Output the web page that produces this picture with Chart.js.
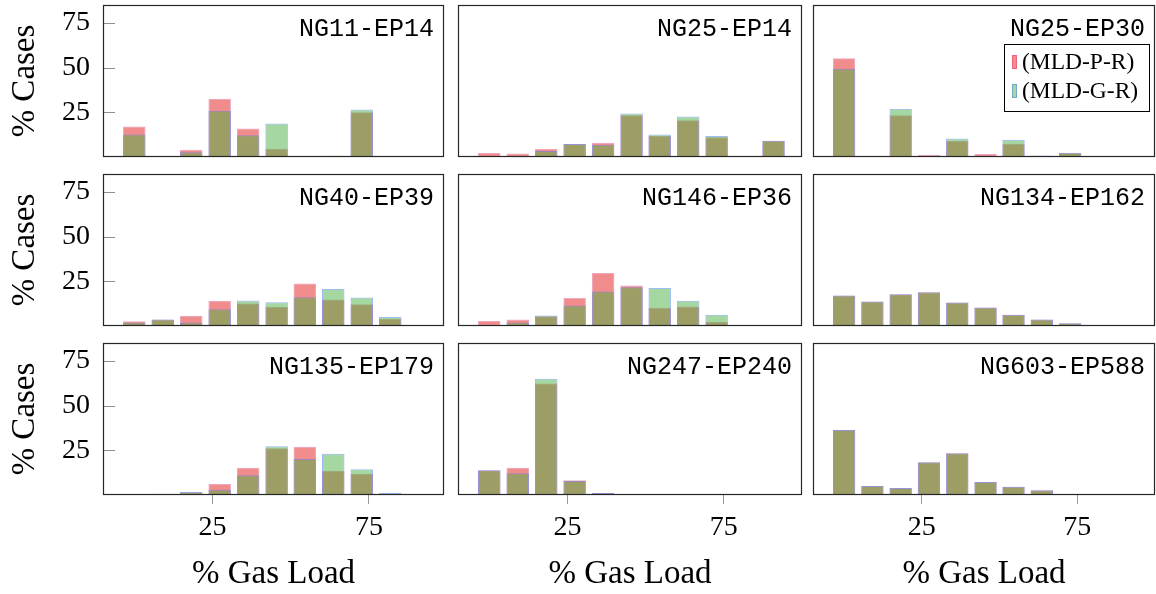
<!DOCTYPE html>
<html>
<head>
<meta charset="utf-8">
<script src="https://cdn.jsdelivr.net/npm/chart.js@4.4.1/dist/chart.umd.min.js"></script>
<style>
  html, body { margin: 0; padding: 0; background: #fff; overflow: hidden; width: 1156px; height: 594px; }
  canvas { position: absolute; }
</style>
</head>
<body>
<script>
// Histogram bins (% gas load) and axis ticks
const gasLoadBins = [0, 9.1, 18.2, 27.3, 36.4, 45.5, 54.5, 63.6, 72.7, 81.8, 90.9];
const xTickValues = [25, 75];
const yTickValues = [25, 50, 75];

// % of cases per bin, one pair of series per instance
const mldPR_NG11_EP14   = [17.0, 0.2, 4.1, 32.6, 15.9, 4.6, 0.4, 0.7, 25.0, 0, 0];
const mldGR_NG11_EP14   = [12.6, 0.2, 2.6, 25.9, 12.2, 18.7, 0.2, 0.4, 26.5, 0, 0];
const mldPR_NG25_EP14   = [2.2, 1.9, 4.6, 7.2, 8.0, 23.3, 11.7, 20.6, 11.1, 0.3, 9.1];
const mldGR_NG25_EP14   = [0, 0.4, 3.3, 7.2, 6.9, 24.3, 12.6, 22.6, 11.7, 0.3, 9.1];
const mldPR_NG25_EP30   = [55.2, 0.3, 23.3, 1.1, 8.9, 1.7, 7.4, 0.4, 2.2, 0, 0];
const mldGR_NG25_EP30   = [49.3, 0.3, 27.0, 0.2, 10.4, 0.3, 9.6, 0.9, 2.4, 0, 0];
const mldPR_NG40_EP39   = [2.6, 3.7, 5.7, 14.1, 12.6, 10.6, 23.7, 14.8, 12.2, 4.1, 0];
const mldGR_NG40_EP39   = [1.9, 3.7, 2.0, 9.4, 14.3, 13.3, 16.1, 20.7, 15.9, 5.0, 0];
const mldPR_NG146_EP36  = [2.8, 3.7, 5.4, 15.7, 29.6, 22.6, 10.2, 10.9, 2.2, 0, 0];
const mldGR_NG146_EP36  = [0, 2.0, 5.9, 11.5, 19.3, 21.7, 21.3, 14.1, 6.3, 0, 0];
const mldPR_NG134_EP162 = [17.0, 13.7, 17.8, 18.9, 13.1, 10.4, 6.3, 3.7, 1.5, 0, 0];
const mldGR_NG134_EP162 = [17.0, 13.7, 17.8, 18.9, 13.1, 10.4, 6.3, 3.7, 1.5, 0, 0];
const mldPR_NG135_EP179 = [0.2, 0.7, 1.5, 6.1, 15.2, 26.1, 27.0, 13.5, 11.9, 0.3, 0.2];
const mldGR_NG135_EP179 = [0.2, 0.3, 1.7, 3.0, 11.1, 27.2, 20.2, 23.1, 14.4, 1.1, 0.2];
const mldPR_NG247_EP240 = [13.9, 15.2, 62.4, 8.3, 1.1, 0.2, 0.2, 0.2, 0.2, 0.2, 0.2];
const mldGR_NG247_EP240 = [13.9, 12.2, 65.0, 7.8, 1.1, 0.2, 0.2, 0.2, 0.2, 0.2, 0.2];
const mldPR_NG603_EP588 = [36.3, 5.0, 3.9, 18.3, 23.3, 7.2, 4.6, 2.6, 0.6, 0.2, 0.2];
const mldGR_NG603_EP588 = [36.3, 5.0, 3.9, 18.3, 23.3, 7.2, 4.6, 2.6, 0.6, 0.2, 0.2];

const panelTitles = [
  'NG11-EP14', 'NG25-EP14', 'NG25-EP30',
  'NG40-EP39', 'NG146-EP36', 'NG134-EP162',
  'NG135-EP179', 'NG247-EP240', 'NG603-EP588'
];
const seriesPR = [mldPR_NG11_EP14, mldPR_NG25_EP14, mldPR_NG25_EP30,
                  mldPR_NG40_EP39, mldPR_NG146_EP36, mldPR_NG134_EP162,
                  mldPR_NG135_EP179, mldPR_NG247_EP240, mldPR_NG603_EP588];
const seriesGR = [mldGR_NG11_EP14, mldGR_NG25_EP14, mldGR_NG25_EP30,
                  mldGR_NG40_EP39, mldGR_NG146_EP36, mldGR_NG134_EP162,
                  mldGR_NG135_EP179, mldGR_NG247_EP240, mldGR_NG603_EP588];
const legendLabels = ['(MLD-P-R)', '(MLD-G-R)'];

// Styling and grid geometry
const RED_FILL = 'rgba(225,25,25,0.5)';
const RED_EDGE = 'rgba(215,60,110,0.45)';
const GREEN_FILL = 'rgba(75,175,65,0.5)';
const GREEN_EDGE = 'rgba(80,130,235,0.55)';
const PLOT_LEFT = [103, 458, 813];
const PLOT_WIDTH = [341, 344, 342];
const PLOT_TOP = [5, 174, 343];
const PLOT_HEIGHT = 152;
const X_MAX = [99, 100, 100];
const PAGE_H = 594;

Chart.defaults.font.family = '"Liberation Serif", serif';
Chart.defaults.color = '#000';
Chart.defaults.animation = false;

const panelDecor = {
  id: 'panelDecor',
  afterDatasetsDraw(chart, args, opts) {
    const { ctx, chartArea: a } = chart;
    ctx.save();
    // inward y tick marks (left column only)
    if (opts.yTicks) {
      const ys = chart.scales.y;
      ctx.strokeStyle = '#8f8f8f';
      ctx.lineWidth = 1;
      for (const v of yTickValues) {
        const py = Math.round(ys.getPixelForValue(v)) + 0.5;
        ctx.beginPath();
        ctx.moveTo(a.left, py);
        ctx.lineTo(a.left + 12, py);
        ctx.stroke();
      }
    }
    // frame
    ctx.strokeStyle = '#262626';
    ctx.lineWidth = 1.2;
    ctx.strokeRect(a.left + 0.5, a.top + 0.5, a.right - a.left - 1, a.bottom - a.top - 1);
    // instance name
    ctx.fillStyle = '#000';
    ctx.font = '25px "Liberation Mono", monospace';
    ctx.textAlign = 'right';
    ctx.textBaseline = 'alphabetic';
    ctx.fillText(opts.title, a.right - 10, a.top + 31);
    // legend box
    if (opts.legend) {
      const bx = a.right - 151, by = a.top + 39, bw = 145, bh = 67;
      ctx.fillStyle = '#fff';
      ctx.fillRect(bx, by, bw, bh);
      ctx.strokeStyle = '#000';
      ctx.lineWidth = 1;
      ctx.strokeRect(bx + 0.5, by + 0.5, bw, bh);
      const entries = [
        { text: legendLabels[0], fill: RED_FILL, edge: RED_EDGE, y: by + 18 },
        { text: legendLabels[1], fill: GREEN_FILL, edge: GREEN_EDGE, y: by + 47 }
      ];
      ctx.font = '23.5px "Liberation Serif", serif';
      ctx.textAlign = 'left';
      ctx.textBaseline = 'middle';
      for (const e of entries) {
        ctx.fillStyle = e.fill;
        ctx.fillRect(bx + 8, e.y - 7, 5, 14);
        ctx.strokeStyle = e.edge;
        ctx.strokeRect(bx + 8.5, e.y - 6.5, 4, 13);
        ctx.fillStyle = '#000';
        ctx.fillText(e.text, bx + 18, e.y + 1);
      }
    }
    ctx.restore();
  }
};

function toPoints(values) {
  return values.map((v, i) => ({ x: gasLoadBins[i], y: v }));
}

function makePanel(idx) {
  const row = Math.floor(idx / 3), col = idx % 3;
  const L = PLOT_LEFT[col], W = PLOT_WIDTH[col], T = PLOT_TOP[row], H = PLOT_HEIGHT;
  const showX = row === 2, showY = col === 0;
  const cLeft = showY ? 0 : L - 2;
  const cTop = T - 2;
  const cRight = L + W + 2;
  const cBottom = showX ? PAGE_H : T + H + 2;

  const canvas = document.createElement('canvas');
  canvas.width = cRight - cLeft;
  canvas.height = cBottom - cTop;
  canvas.style.left = cLeft + 'px';
  canvas.style.top = cTop + 'px';
  canvas.style.width = canvas.width + 'px';
  canvas.style.height = canvas.height + 'px';
  document.body.appendChild(canvas);

  const barStyle = { borderWidth: 1, grouped: false, barPercentage: 0.8, categoryPercentage: 1 };

  new Chart(canvas, {
    type: 'bar',
    data: {
      datasets: [
        Object.assign({ label: legendLabels[0], data: toPoints(seriesPR[idx]),
          backgroundColor: RED_FILL, borderColor: RED_EDGE, order: 1 }, barStyle),
        Object.assign({ label: legendLabels[1], data: toPoints(seriesGR[idx]),
          backgroundColor: GREEN_FILL, borderColor: GREEN_EDGE, order: 0 }, barStyle)
      ]
    },
    options: {
      responsive: false,
      animation: false,
      layout: { padding: { left: showY ? 0 : 2, right: 2, top: 2, bottom: showX ? 0 : 2 } },
      plugins: {
        legend: { display: false },
        tooltip: { enabled: false },
        panelDecor: { title: panelTitles[idx], legend: idx === 2, yTicks: showY }
      },
      scales: {
        x: {
          type: 'linear',
          min: -10,
          max: X_MAX[col],
          offset: false,
          display: showX,
          border: { display: false },
          grid: { display: true, offset: false, drawOnChartArea: false, drawTicks: true, tickLength: 9, color: '#9a9a9a', lineWidth: 1 },
          ticks: { font: { size: 28 }, color: '#000', padding: 7, autoSkip: false, maxRotation: 0 },
          afterBuildTicks: s => { s.ticks = xTickValues.map(v => ({ value: v })); },
          afterFit: s => {
            s.height = showX ? PAGE_H - (T + H) : 0;
            s.paddingLeft = 0; s.paddingRight = 0;
          },
          title: { display: true, text: '% Gas Load', font: { size: 33 }, color: '#000', padding: { top: 0, bottom: 0 } }
        },
        y: {
          min: 0,
          max: 85,
          display: showY,
          border: { display: false },
          grid: { display: false, drawTicks: false },
          ticks: { font: { size: 28 }, color: '#000', padding: 13 },
          afterBuildTicks: s => { s.ticks = yTickValues.map(v => ({ value: v })); },
          afterFit: s => {
            s.width = showY ? L : 0;
            s.paddingTop = 0; s.paddingBottom = 0;
          },
          title: { display: true, text: '% Cases', font: { size: 33 }, color: '#000', padding: { top: 6, bottom: 0 } }
        }
      }
    },
    plugins: [panelDecor]
  });
}

for (let i = 0; i < 9; i++) makePanel(i);
</script>
</body>
</html>
